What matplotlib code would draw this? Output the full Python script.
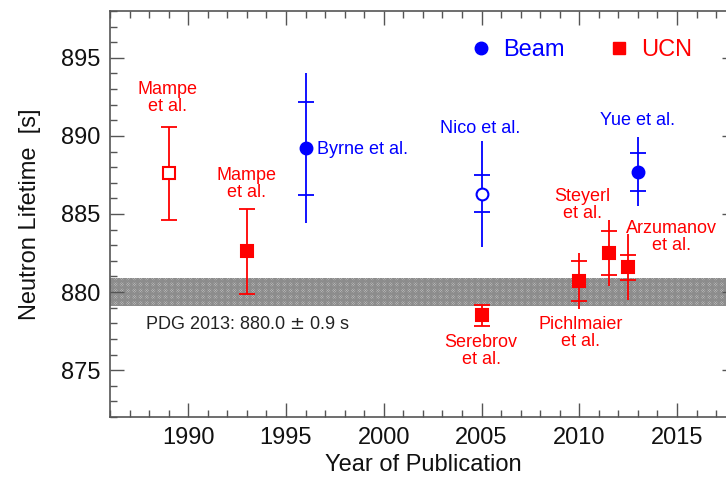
import numpy as np
import matplotlib.pyplot as plt
from matplotlib.lines import Line2D
from matplotlib.ticker import MultipleLocator

plt.rcParams['font.family'] = ['Liberation Sans', 'DejaVu Sans']
plt.rcParams['hatch.linewidth'] = 0.7

# neutron lifetime measurements
names = ['Mampe\net al.', 'Mampe\net al.', 'Byrne et al.', 'Nico et al.', 'Serebrov\net al.',
         'Pichlmaier\net al.', 'Steyerl\net al.', 'Arzumanov\net al.', 'Yue et al.']
years = [1989, 1993, 1996, 2005, 2005, 2010, 2011.5, 2012.5, 2013]
tau = [887.6, 882.6, 889.2, 886.3, 878.5, 880.7, 882.5, 881.6, 887.7]
stat_err = [3.0, 2.7, 3.0, 1.2, 0.7, 1.3, 1.4, 0.8, 1.2]
total_err = [3.0, 2.7, 4.8, 3.4, 0.7, 1.8, 2.1, 2.1, 2.2]
method = ['UCN', 'UCN', 'Beam', 'Beam', 'UCN', 'UCN', 'UCN', 'UCN', 'Beam']
open_marker = [True, False, False, True, False, False, False, False, False]
capped = [True, True, False, False, True, False, False, False, False]

pdg_mean = 880.0
pdg_err = 0.9

# label placement (x, y, ha) for each measurement
label_pos = [(1988.96, 892.45, 'center'), (1992.98, 886.9, 'center'), (1996.6, 889.1, 'left'),
             (2004.95, 890.45, 'center'), (2004.98, 876.25, 'center'), (2010.05, 877.35, 'center'),
             (2010.15, 885.6, 'center'), (2014.7, 883.55, 'center'), (2012.97, 891.0, 'center')]

colors = {'Beam': '#0000ff', 'UCN': '#ff0000'}
markers = {'Beam': 'o', 'UCN': 's'}

fig = plt.figure(figsize=(7.26, 4.78), dpi=100)
ax = fig.add_axes([110 / 726, 61 / 478, 625.7 / 726, 406 / 478])

# PDG band
ax.axhspan(pdg_mean - pdg_err, pdg_mean + pdg_err, facecolor='#e4e4e4', edgecolor='#8c8c8c',
           hatch='xxxxxxxxxxxxxx', linewidth=0, zorder=1)
ax.text(1987.8, 877.95, 'PDG 2013: %.1f $\\pm$ %.1f s' % (pdg_mean, pdg_err),
        fontsize=13, color='#222222', va='center', ha='left')

for i in range(len(years)):
    c = colors[method[i]]
    m = markers[method[i]]
    face = 'white' if open_marker[i] else c
    if capped[i]:
        ax.errorbar(years[i], tau[i], yerr=total_err[i], fmt='none', ecolor=c,
                    elinewidth=1.3, capsize=5.5, capthick=1.3, zorder=3)
    else:
        ax.errorbar(years[i], tau[i], yerr=total_err[i], fmt='none', ecolor=c,
                    elinewidth=1.3, capsize=0, zorder=3)
        # statistical error ticks
        ax.plot([years[i], years[i]], [tau[i] - stat_err[i], tau[i] + stat_err[i]],
                ls='none', marker='_', ms=12, mew=1.3, color=c, zorder=3)
    ax.plot(years[i], tau[i], marker=m, ms=8 if m == 's' else 8.5, mfc=face, mec=c,
            mew=1.5, ls='none', zorder=4)
    lx, ly, ha = label_pos[i]
    ax.text(lx, ly, names[i], color=c, fontsize=13, ha=ha, va='center',
            multialignment='center', linespacing=1.0)

# legend
handles = [Line2D([], [], ls='none', marker='o', ms=9, color=colors['Beam']),
           Line2D([], [], ls='none', marker='s', ms=8.5, color=colors['UCN'])]
ax.legend(handles, ['Beam', 'UCN'], loc='center right', bbox_to_anchor=(0.93, 0.904),
          ncol=2, frameon=False, fontsize=17, labelcolor=[colors['Beam'], colors['UCN']],
          handlelength=0.8, handletextpad=0.53, columnspacing=1.9, borderpad=0,
          borderaxespad=0)

ax.set_xlim(1986, 2018)
ax.set_ylim(872, 898)
ax.xaxis.set_major_locator(MultipleLocator(5))
ax.xaxis.set_minor_locator(MultipleLocator(1))
ax.yaxis.set_major_locator(MultipleLocator(5))
ax.yaxis.set_minor_locator(MultipleLocator(1))
ax.tick_params(which='both', direction='in', top=True, right=True, color='#555555',
               width=1, labelsize=17, labelcolor='#111111', pad=7)
ax.tick_params(which='major', length=10)
ax.tick_params(which='minor', length=5)
for s in ax.spines.values():
    s.set_color('#555555')
    s.set_linewidth(1.2)

ax.set_xlabel('Year of Publication', fontsize=17, color='#111111', labelpad=4)
ax.set_ylabel('Neutron Lifetime  [s]', fontsize=17, color='#111111', labelpad=14)

fig.savefig('out.png', dpi=100)
